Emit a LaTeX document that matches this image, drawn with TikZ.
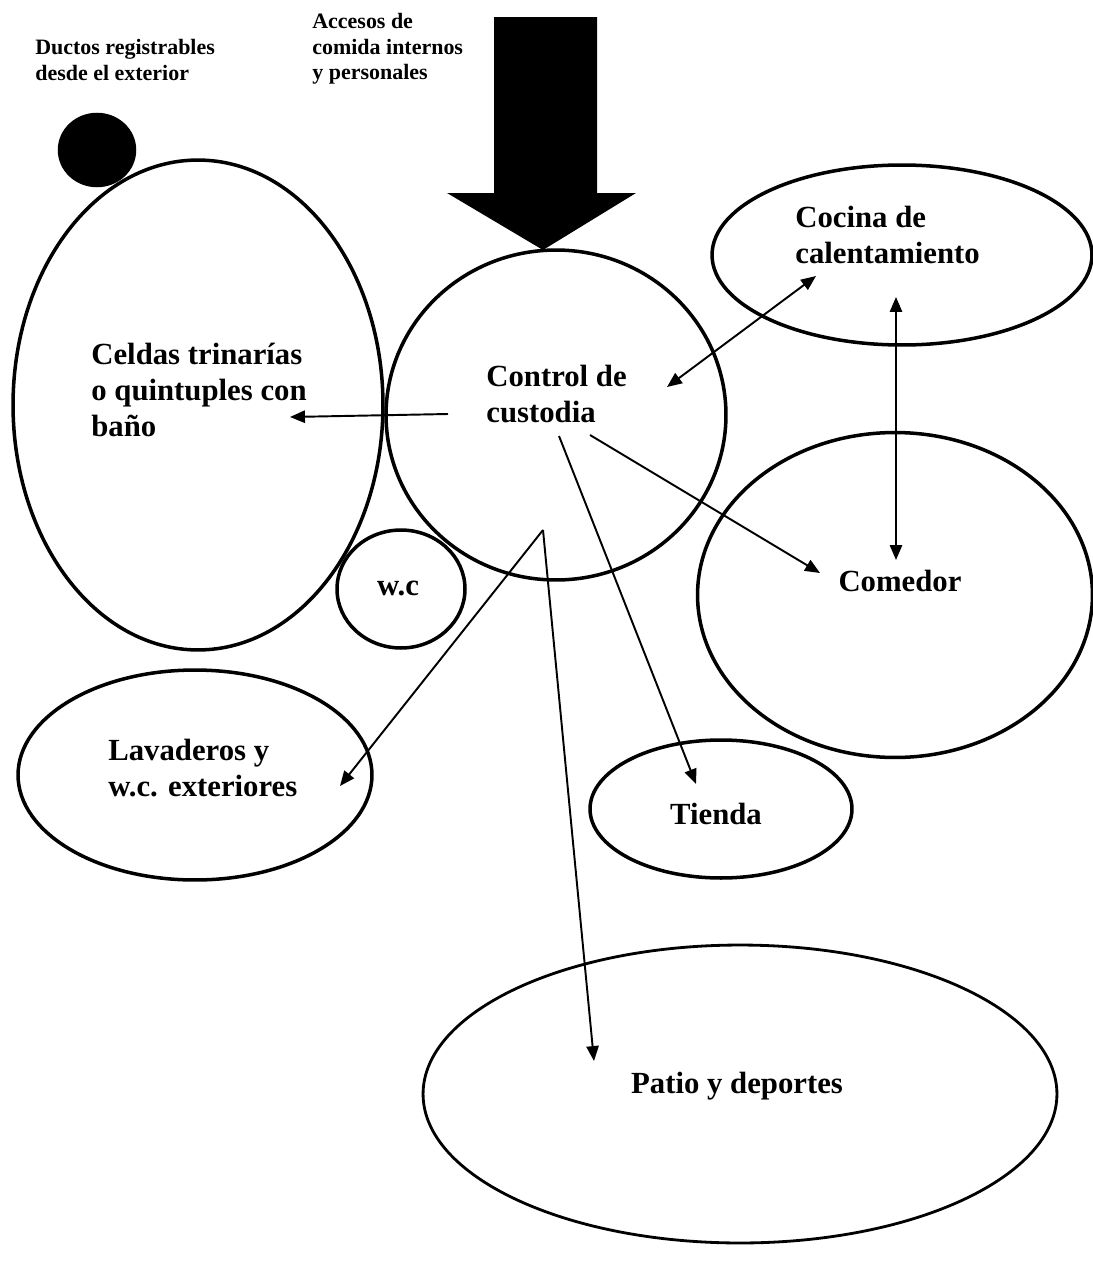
\documentclass[tikz,border=0pt]{standalone}
\usepackage{fontspec}
\setmainfont{Liberation Serif}
\usetikzlibrary{arrows.meta, shapes.geometric}

\begin{document}
\begin{tikzpicture}[
        x=0.02cm, y=-0.02cm,
        zone/.style={draw, ellipse, line width=2pt, inner sep=0pt},
        txt/.style={font=\fontsize{17.5}{20.5}\selectfont\bfseries, align=left, inner sep=0pt},
        note/.style={font=\fontsize{12.5}{14.5}\selectfont\bfseries, align=left, inner sep=0pt},
        flow/.style={line width=1.1pt},
        >={Triangle[length=8.5pt, width=7pt]}
    ]
        \useasboundingbox (0,0) rectangle (1092,1271);

        % Nodes
        \node[zone, fill=black, minimum width=1.5cm, minimum height=1.42cm] (ducto) at (97,150) {};
        \node[zone, minimum width=7.4cm, minimum height=9.8cm] (celdas) at (198,405) {};
        \node[zone, minimum width=6.8cm, minimum height=6.6cm] (control) at (556,415) {};
        \node[zone, minimum width=7.6cm, minimum height=3.6cm] (cocina) at (902,255) {};
        \node[zone, minimum width=7.9cm, minimum height=6.5cm] (comedor) at (895,595) {};
        \node[zone, minimum width=2.56cm, minimum height=2.36cm] (wc) at (401,589) {};
        \node[zone, minimum width=7.08cm, minimum height=4.2cm] (lavaderos) at (195,775) {};
        \node[zone, minimum width=5.24cm, minimum height=2.76cm] (tienda) at (721,809) {};
        \node[zone, line width=1.6pt, minimum width=12.68cm, minimum height=5.96cm] (patio) at (740,1094) {};

        \node[note, anchor=west] (ductos) at (35,60) {Ductos registrables\\desde el exterior};
        \node[note, anchor=west] (accesos) at (312,49) {Accesos de\\comida internos\\y personales};
        \node[txt, anchor=west] (celdastxt) at (91,390) {Celdas trinarías\\o quintuples con\\baño};
        \node[txt, anchor=west] (controltxt) at (486,394) {Control de\\custodia};
        \node[txt, anchor=west] (cocinatxt) at (795,235) {Cocina de\\calentamiento};
        \node[txt] (comedortxt) at (900,581) {Comedor};
        \node[txt] (wctxt) at (398,588) {w.c};
        \node[txt, anchor=west] (lavaderostxt) at (108,768) {Lavaderos y\\w.c. exteriores};
        \node[txt] (tiendatxt) at (716,814) {Tienda};
        \node[txt] (patiotxt) at (737,1086) {Patio y deportes};

        % Arrow ends
        \coordinate (entrada) at (543,250);
        \coordinate (a1) at (448,414);  \coordinate (a2) at (290,417);
        \coordinate (b1) at (667,387);  \coordinate (b2) at (816,276);
        \coordinate (c1) at (896,297);  \coordinate (c2) at (896,560);
        \coordinate (d1) at (590,435);  \coordinate (d2) at (820,573);
        \coordinate (e1) at (559,436);  \coordinate (e2) at (696,784);
        \coordinate (apex) at (543,530);
        \coordinate (f2) at (340,786);
        \coordinate (g2) at (594,1061);

        % Arrows
        \fill (494,17) -- (597,17) -- (597,193) -- (636,193) -- (entrada)
            -- (447,193) -- (494,193) -- cycle;
        \draw[flow, ->] (a1) -- (a2);
        \draw[flow, <->] (b1) -- (b2);
        \draw[flow, <->] (c1) -- (c2);
        \draw[flow, ->] (d1) -- (d2);
        \draw[flow, ->] (e1) -- (e2);
        \draw[flow, ->] (apex) -- (f2);
        \draw[flow, ->] (apex) -- (g2);
    \end{tikzpicture}
\end{document}
